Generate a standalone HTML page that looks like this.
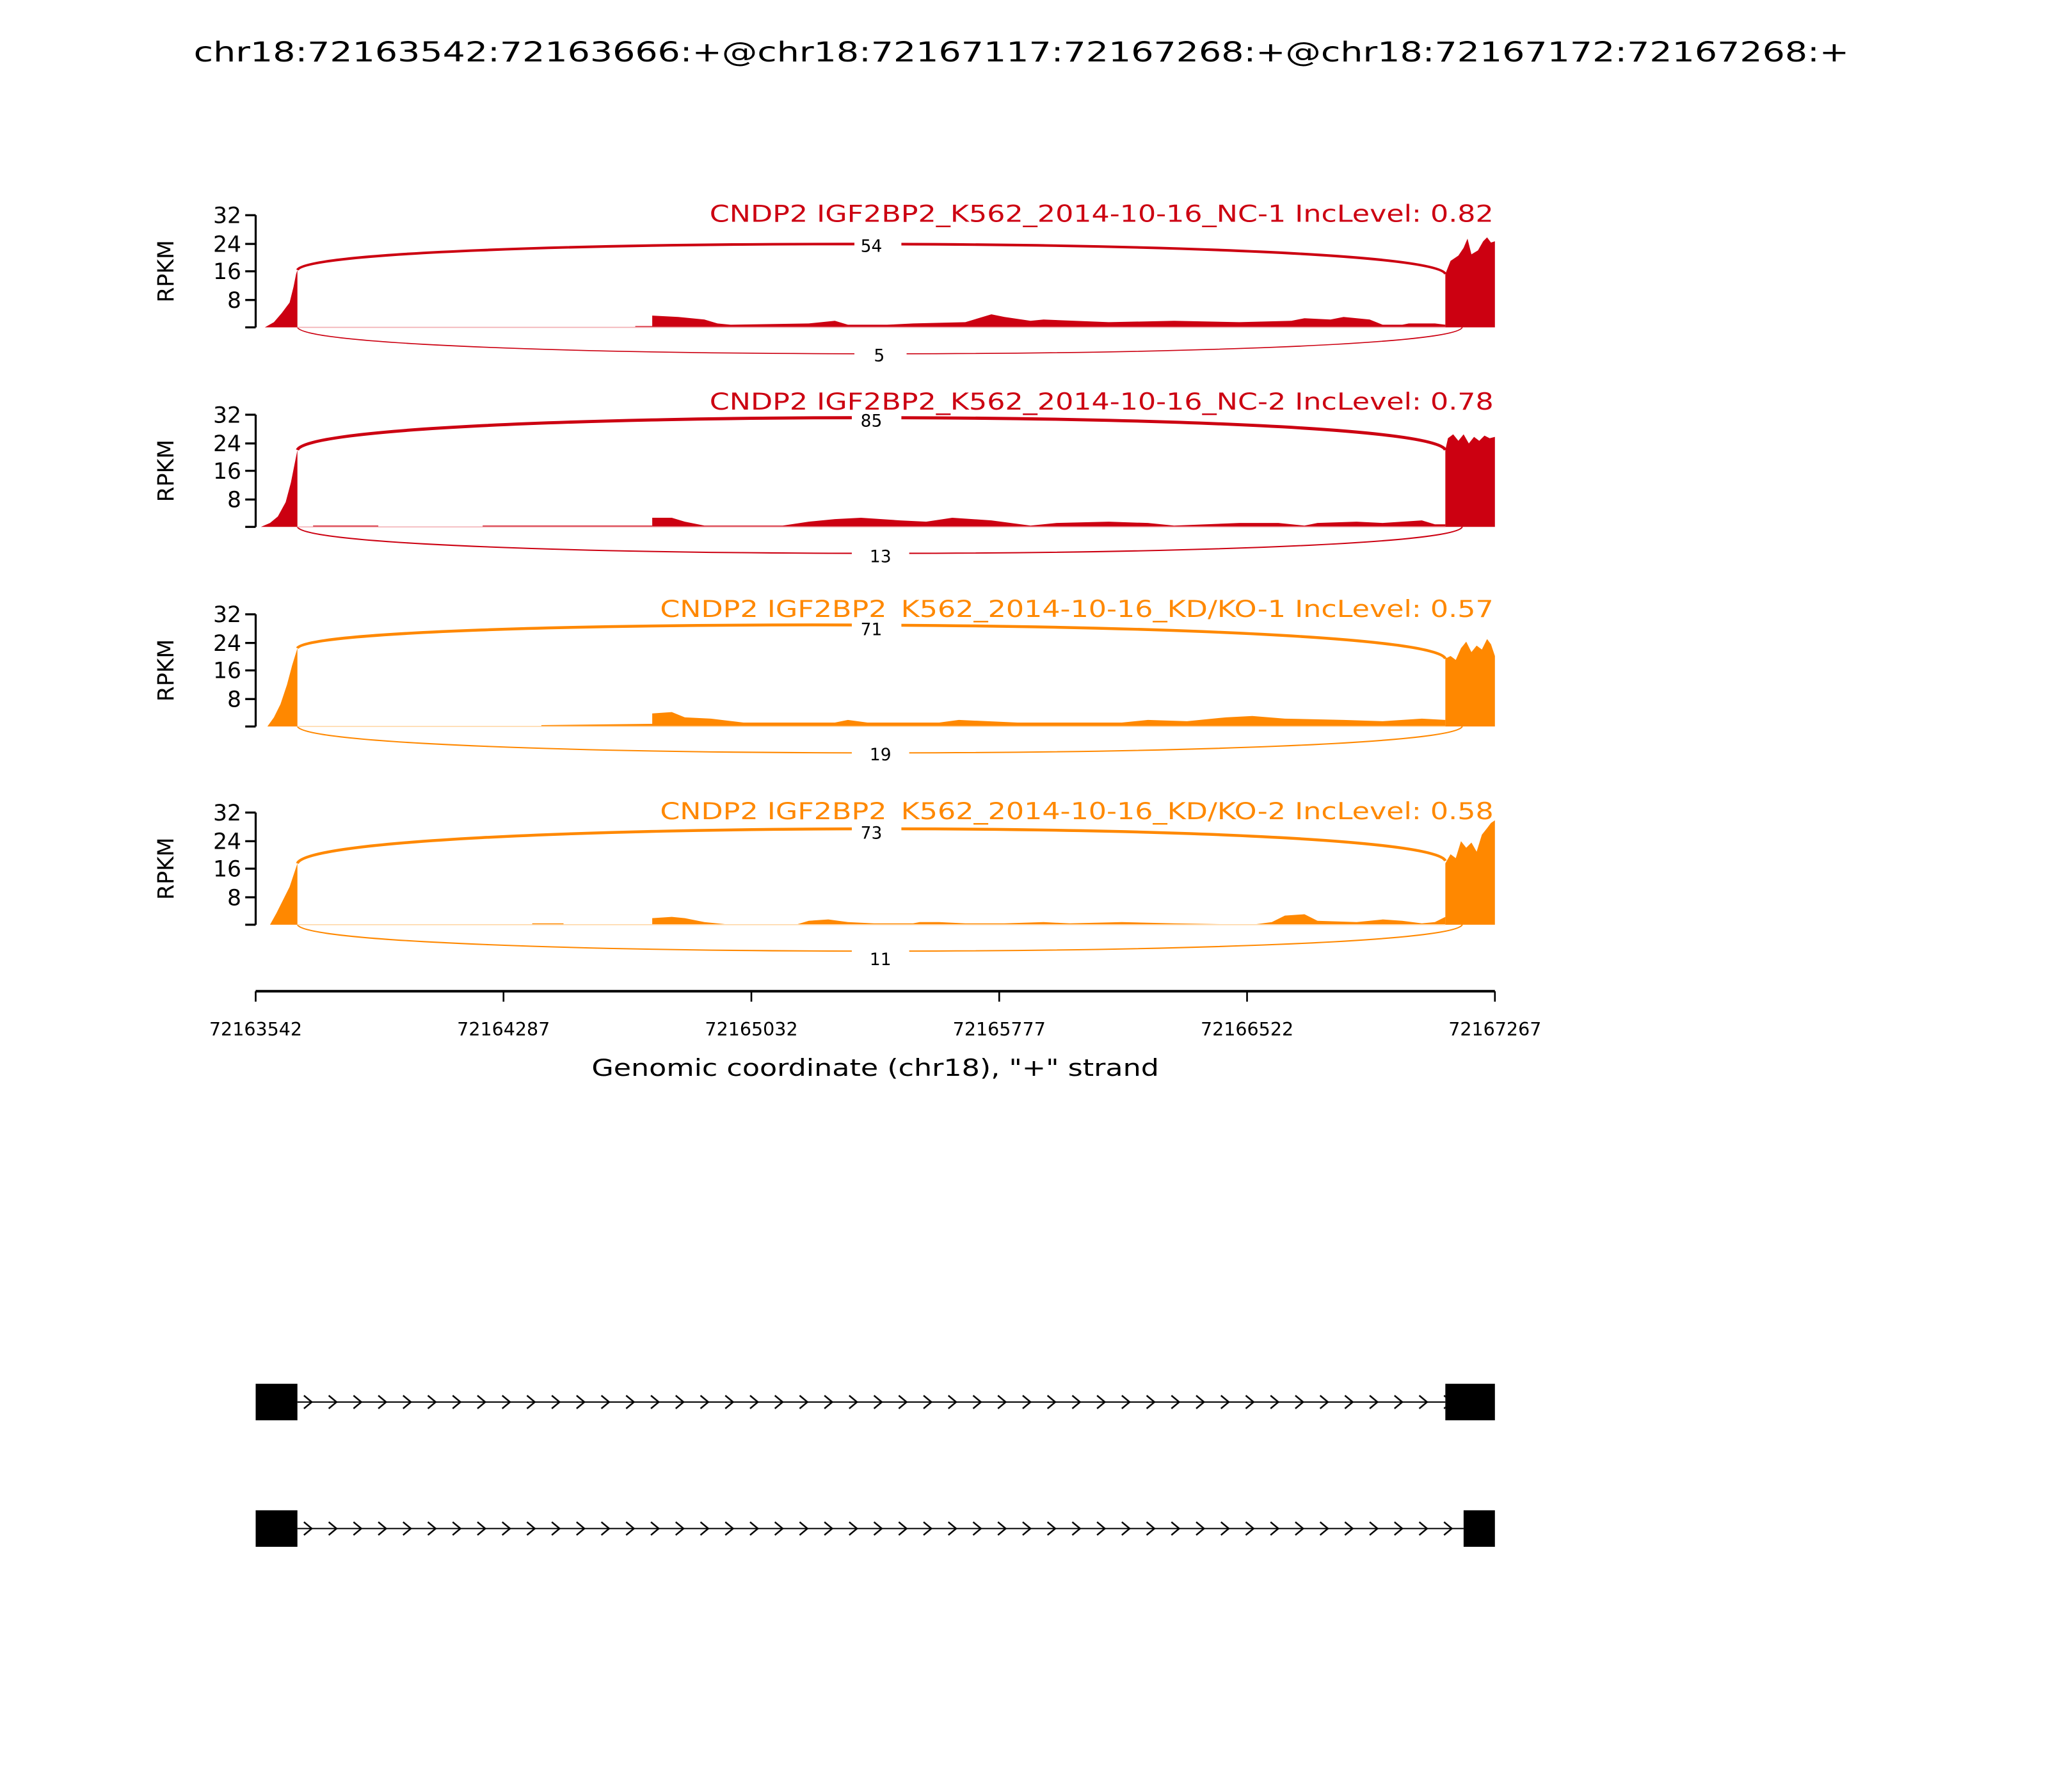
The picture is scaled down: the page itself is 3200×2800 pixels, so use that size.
<!DOCTYPE html>
<html><head><style>html,body{margin:0;padding:0;background:#fff}svg{display:block}</style></head>
<body>
<svg width="3200" height="2800" viewBox="0 0 1570 1374" preserveAspectRatio="none" xmlns="http://www.w3.org/2000/svg" font-family="DejaVu Sans, Liberation Sans, sans-serif">
<defs>
<pattern id="chev" x="228" y="1065" width="19" height="20" patternUnits="userSpaceOnUse">
<path d="M5 5 L11 10 L5 15" fill="none" stroke="#000" stroke-width="1.2"/>
</pattern>
</defs>
<rect width="1570" height="1374" fill="#fff"/>
<text x="783" y="47" font-size="21" text-anchor="middle" textLength="1269" lengthAdjust="spacingAndGlyphs">chr18:72163542:72163666:+@chr18:72167117:72167268:+@chr18:72167172:72167268:+</text>

<g>
<text x="1145" y="170" font-size="18" fill="#cc0011" text-anchor="end" textLength="601" lengthAdjust="spacingAndGlyphs">CNDP2 IGF2BP2_K562_2014-10-16_NC-1 IncLevel: 0.82</text>
<path d="M196 165 V251" stroke="#000" stroke-width="1.6"/>
<g stroke="#000" stroke-width="1.6"><path d="M188 165H196M188 187H196M188 208H196M188 230H196M188 251H196"/></g>
<g font-size="17" text-anchor="end"><text x="185" y="171">32</text><text x="185" y="193">24</text><text x="185" y="214">16</text><text x="185" y="236">8</text></g>
<text transform="translate(133 208) rotate(-90)" font-size="17" text-anchor="middle">RPKM</text>
<g fill="#cc0011">
<path d="M203 251 L210 247 L216 240 L222 232 L225 220 L227 210 L228 207 L228 251 Z"/>
<path d="M487 251 L487 250 L500 250 L500 242 L520 243 L540 245 L550 248 L560 249 L620 248 L640 246 L650 249 L680 249 L700 248 L740 247 L760 241 L770 243 L790 246 L800 245 L850 247 L900 246 L950 247 L990 246 L1000 244 L1020 245 L1030 243 L1050 245 L1060 249 L1075 249 L1080 248 L1100 248 L1108 249 L1108 251 Z"/>
<path d="M1108 251 L1108 210 L1112 200 L1118 196 L1122 190 L1125 183 L1128 195 L1133 192 L1137 185 L1140 182 L1143 186 L1146 185 L1146 251 Z"/>
</g>
<path d="M228 207 C240 180 1096 180 1108 210" fill="none" stroke="#cc0011" stroke-width="2"/>
<path d="M228 251 C240 278 1109 278 1121 251" fill="none" stroke="#cc0011" stroke-width="0.8"/>
<line x1="228" y1="251" x2="1108" y2="251" stroke="#f3b0b5" stroke-width="0.8"/>
<rect x="655" y="178" width="36" height="18" fill="#fff"/><text x="668" y="193" font-size="13" text-anchor="middle">54</text>
<rect x="655" y="263" width="40" height="18" fill="#fff"/><text x="674" y="277" font-size="13" text-anchor="middle">5</text>
</g>

<g>
<text x="1145" y="314" font-size="18" fill="#cc0011" text-anchor="end" textLength="601" lengthAdjust="spacingAndGlyphs">CNDP2 IGF2BP2_K562_2014-10-16_NC-2 IncLevel: 0.78</text>
<path d="M196 318 V404" stroke="#000" stroke-width="1.6"/>
<g stroke="#000" stroke-width="1.6"><path d="M188 318H196M188 340H196M188 361H196M188 383H196M188 404H196"/></g>
<g font-size="17" text-anchor="end"><text x="185" y="324">32</text><text x="185" y="346">24</text><text x="185" y="367">16</text><text x="185" y="389">8</text></g>
<text transform="translate(133 361) rotate(-90)" font-size="17" text-anchor="middle">RPKM</text>
<g fill="#cc0011">
<path d="M200 404 L207 401 L213 396 L219 385 L223 370 L226 355 L228 345 L228 404 Z"/>
<path d="M240 404 L240 403 L290 403 L290 404 Z M370 404 L370 403 L500 403 L500 404 Z"/>
<path d="M500 404 L500 397 L515 397 L525 400 L540 403 L600 403 L620 400 L640 398 L660 397 L690 399 L710 400 L730 397 L760 399 L790 403 L810 401 L850 400 L880 401 L900 403 L950 401 L980 401 L1000 403 L1010 401 L1040 400 L1060 401 L1090 399 L1100 402 L1108 402 L1108 404 Z"/>
<path d="M1108 404 L1108 345 L1110 336 L1114 333 L1118 338 L1122 333 L1126 340 L1130 335 L1134 338 L1138 334 L1142 336 L1146 335 L1146 404 Z"/>
</g>
<path d="M228 345 C240 312 1096 312 1108 345" fill="none" stroke="#cc0011" stroke-width="2.4"/>
<path d="M228 404 C240 431 1109 431 1121 404" fill="none" stroke="#cc0011" stroke-width="1"/>
<line x1="228" y1="404" x2="1108" y2="404" stroke="#f3b0b5" stroke-width="0.8"/>
<rect x="653" y="315" width="38" height="14" fill="#fff"/><text x="668" y="327" font-size="13" text-anchor="middle">85</text>
<rect x="653" y="417" width="44" height="18" fill="#fff"/><text x="675" y="431" font-size="13" text-anchor="middle">13</text>
</g>

<g>
<text x="1145" y="473" font-size="18" fill="#ff8800" text-anchor="end" textLength="639" lengthAdjust="spacingAndGlyphs">CNDP2 IGF2BP2_K562_2014-10-16_KD/KO-1 IncLevel: 0.57</text>
<path d="M196 471 V557" stroke="#000" stroke-width="1.6"/>
<g stroke="#000" stroke-width="1.6"><path d="M188 471H196M188 493H196M188 514H196M188 536H196M188 557H196"/></g>
<g font-size="17" text-anchor="end"><text x="185" y="477">32</text><text x="185" y="499">24</text><text x="185" y="520">16</text><text x="185" y="542">8</text></g>
<text transform="translate(133 514) rotate(-90)" font-size="17" text-anchor="middle">RPKM</text>
<g fill="#ff8800">
<path d="M205 557 L210 550 L215 540 L220 525 L224 510 L228 497 L228 557 Z"/>
<path d="M415 557 L415 556 L500 555 L500 547 L515 546 L525 550 L545 551 L570 554 L640 554 L650 552 L665 554 L720 554 L735 552 L780 554 L860 554 L880 552 L910 553 L940 550 L960 549 L985 551 L1030 552 L1060 553 L1090 551 L1108 552 L1108 557 Z"/>
<path d="M1108 557 L1108 505 L1112 503 L1116 506 L1120 497 L1124 492 L1128 500 L1132 495 L1136 498 L1140 490 L1143 494 L1146 503 L1146 557 Z"/>
</g>
<path d="M228 497 C240 472 1096 472 1108 505" fill="none" stroke="#ff8800" stroke-width="2.2"/>
<path d="M228 557 C240 584 1109 584 1121 557" fill="none" stroke="#ff8800" stroke-width="1"/>
<line x1="228" y1="557" x2="1108" y2="557" stroke="#ffd8a8" stroke-width="0.8"/>
<rect x="653" y="475" width="38" height="14" fill="#fff"/><text x="668" y="487" font-size="13" text-anchor="middle">71</text>
<rect x="653" y="569" width="44" height="18" fill="#fff"/><text x="675" y="583" font-size="13" text-anchor="middle">19</text>
</g>

<g>
<text x="1145" y="628" font-size="18" fill="#ff8800" text-anchor="end" textLength="639" lengthAdjust="spacingAndGlyphs">CNDP2 IGF2BP2_K562_2014-10-16_KD/KO-2 IncLevel: 0.58</text>
<path d="M196 623 V709" stroke="#000" stroke-width="1.6"/>
<g stroke="#000" stroke-width="1.6"><path d="M188 623H196M188 645H196M188 666H196M188 688H196M188 709H196"/></g>
<g font-size="17" text-anchor="end"><text x="185" y="629">32</text><text x="185" y="651">24</text><text x="185" y="672">16</text><text x="185" y="694">8</text></g>
<text transform="translate(133 666) rotate(-90)" font-size="17" text-anchor="middle">RPKM</text>
<g fill="#ff8800">
<path d="M207 709 L212 700 L217 690 L222 680 L226 668 L228 662 L228 709 Z"/>
<path d="M408 709 L408 708 L432 708 L432 709 Z"/>
<path d="M500 709 L500 704 L515 703 L525 704 L540 707 L560 709 L610 709 L620 706 L635 705 L650 707 L670 708 L700 708 L705 707 L720 707 L740 708 L770 708 L800 707 L820 708 L860 707 L900 708 L960 709 L975 707 L985 702 L1000 701 L1010 706 L1040 707 L1060 705 L1075 706 L1090 708 L1100 707 L1108 703 L1108 709 Z"/>
<path d="M1108 709 L1108 662 L1112 655 L1116 658 L1120 645 L1124 650 L1128 646 L1132 653 L1136 640 L1140 635 L1143 631 L1146 629 L1146 709 Z"/>
</g>
<path d="M228 662 C240 627 1096 627 1108 660" fill="none" stroke="#ff8800" stroke-width="2.2"/>
<path d="M228 709 C240 736 1109 736 1121 709" fill="none" stroke="#ff8800" stroke-width="1"/>
<line x1="228" y1="709" x2="1108" y2="709" stroke="#ffd8a8" stroke-width="0.8"/>
<rect x="653" y="631" width="38" height="14" fill="#fff"/><text x="668" y="643" font-size="13" text-anchor="middle">73</text>
<rect x="653" y="726" width="44" height="18" fill="#fff"/><text x="675" y="740" font-size="13" text-anchor="middle">11</text>
</g>

<line x1="196" y1="760" x2="1146" y2="760" stroke="#000" stroke-width="2"/>
<g stroke="#000" stroke-width="1.3"><path d="M196 760V768M386 760V768M576 760V768M766 760V768M956 760V768M1146 760V768"/></g>
<g font-size="14" text-anchor="middle">
<text x="196" y="794">72163542</text><text x="386" y="794">72164287</text><text x="576" y="794">72165032</text><text x="766" y="794">72165777</text><text x="956" y="794">72166522</text><text x="1146" y="794">72167267</text>
</g>
<text x="671" y="825" font-size="18" text-anchor="middle" textLength="435" lengthAdjust="spacingAndGlyphs">Genomic coordinate (chr18), "+" strand</text>

<rect x="196" y="1061" width="32" height="28" fill="#000"/>
<rect x="1108" y="1061" width="38" height="28" fill="#000"/>
<line x1="228" y1="1075" x2="1108" y2="1075" stroke="#000" stroke-width="1"/>
<rect x="228" y="1065" width="880" height="20" fill="url(#chev)"/>

<rect x="196" y="1158" width="32" height="28" fill="#000"/>
<rect x="1122" y="1158" width="24" height="28" fill="#000"/>
<line x1="228" y1="1172" x2="1122" y2="1172" stroke="#000" stroke-width="1"/>
<g transform="translate(0 97)"><rect x="228" y="1065" width="894" height="20" fill="url(#chev)"/></g>
</svg>
</body></html>
